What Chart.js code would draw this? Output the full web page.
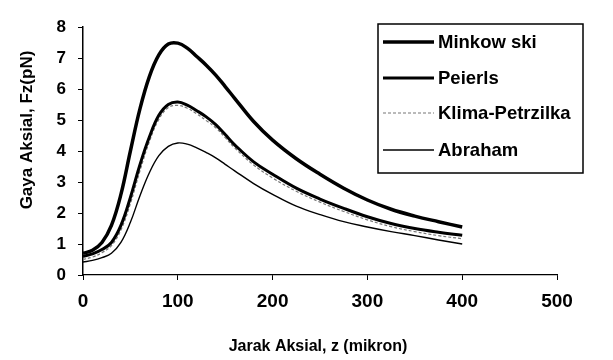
<!DOCTYPE html>
<html>
<head>
<meta charset="utf-8">
<script src="https://cdn.jsdelivr.net/npm/chart.js@4/dist/chart.umd.min.js"></script>
<style>
  html, body { margin: 0; padding: 0; background: #fff; }
  #wrap { width: 613px; height: 360px; }
</style>
</head>
<body>
<div id="wrap"><canvas id="c" width="613" height="360"></canvas></div>
<script>
// ---- data ----
const zValues = [0, 10, 20, 30, 40, 50, 60, 70, 80, 90, 100, 110, 120, 130, 140, 150, 160, 180, 200, 225, 250, 275, 300, 325, 350, 375, 400];
const minkowski = [0.7, 0.8, 1.05, 1.6, 2.6, 4.0, 5.35, 6.4, 7.1, 7.45, 7.48, 7.32, 7.05, 6.77, 6.45, 6.08, 5.7, 4.95, 4.35, 3.75, 3.25, 2.8, 2.42, 2.12, 1.9, 1.72, 1.55];
const peierls = [0.6, 0.68, 0.82, 1.05, 1.6, 2.5, 3.55, 4.45, 5.15, 5.5, 5.58, 5.48, 5.3, 5.1, 4.85, 4.53, 4.2, 3.65, 3.25, 2.8, 2.45, 2.15, 1.88, 1.66, 1.5, 1.38, 1.28];
const klimaPetrzilka = [0.5, 0.58, 0.72, 0.95, 1.45, 2.3, 3.35, 4.3, 5.02, 5.4, 5.47, 5.38, 5.2, 4.98, 4.75, 4.43, 4.1, 3.55, 3.13, 2.7, 2.35, 2.05, 1.78, 1.56, 1.4, 1.27, 1.17];
const abraham = [0.42, 0.47, 0.56, 0.7, 1.05, 1.7, 2.55, 3.3, 3.85, 4.15, 4.26, 4.22, 4.1, 3.95, 3.78, 3.57, 3.36, 2.95, 2.6, 2.22, 1.95, 1.72, 1.55, 1.4, 1.27, 1.13, 1.0];
const seriesNames = ["Minkow ski", "Peierls", "Klima-Petrzilka", "Abraham"];
const xTitle = "Jarak Aksial, z (mikron)";
const yTitle = "Gaya Aksial, Fz(pN)";
const xTicks = [0, 100, 200, 300, 400, 500];
const yTicks = [0, 1, 2, 3, 4, 5, 6, 7, 8];

const FONT = "'Liberation Sans', Arial, sans-serif";

function pts(ys) { return zValues.map((z, i) => ({ x: z, y: ys[i] })); }

const styles = [
  { borderColor: '#000', borderWidth: 3.5, borderDash: [] },
  { borderColor: '#000', borderWidth: 3, borderDash: [] },
  { borderColor: '#777', borderWidth: 1.2, borderDash: [3, 2] },
  { borderColor: '#000', borderWidth: 1.4, borderDash: [] }
];
const allSeries = [minkowski, peierls, klimaPetrzilka, abraham];

const datasets = allSeries.map((s, i) => ({
  label: seriesNames[i],
  data: pts(s),
  borderColor: styles[i].borderColor,
  borderWidth: styles[i].borderWidth,
  borderDash: styles[i].borderDash,
  pointRadius: 0,
  fill: false,
  tension: 0.4
}));

const extras = {
  id: 'extras',
  afterDraw(chart) {
    const ctx = chart.ctx;
    ctx.save();
    // axis titles
    ctx.fillStyle = '#000';
    ctx.font = "bold 16px " + FONT;
    ctx.textAlign = 'center';
    ctx.textBaseline = 'middle';
    ctx.fillText(xTitle, 318, 347);
    ctx.save();
    ctx.translate(27, 130);
    ctx.rotate(-Math.PI / 2);
    ctx.font = "bold 17px " + FONT;
    ctx.fillText(yTitle, 0, 0);
    ctx.restore();

    // legend box
    const lx = 378, ly = 24, lw = 205, lh = 149;
    ctx.lineWidth = 1.5;
    ctx.strokeStyle = '#000';
    ctx.setLineDash([]);
    ctx.strokeRect(lx, ly, lw, lh);
    const rows = [42, 78, 113, 150];
    ctx.font = "bold 18.5px " + FONT;
    ctx.textAlign = 'left';
    chart.data.datasets.forEach((ds, i) => {
      const y = rows[i];
      ctx.beginPath();
      ctx.lineWidth = ds.borderWidth;
      ctx.strokeStyle = ds.borderColor;
      ctx.setLineDash(ds.borderDash || []);
      ctx.moveTo(383, y);
      ctx.lineTo(434, y);
      ctx.stroke();
      ctx.setLineDash([]);
      ctx.fillStyle = '#000';
      ctx.fillText(ds.label, 438, y + 1);
    });
    ctx.restore();
  }
};

new Chart(document.getElementById('c'), {
  type: 'line',
  data: { datasets },
  options: {
    responsive: false,
    animation: false,
    layout: { padding: { left: 0, right: 56, top: 27, bottom: 0 } },
    plugins: { legend: { display: false }, tooltip: { enabled: false } },
    scales: {
      x: {
        type: 'linear',
        min: 0, max: 500,
        afterBuildTicks(scale) { scale.ticks = xTicks.map(v => ({ value: v })); },
        afterFit(scale) { scale.height = 85; },
        ticks: { color: '#000', font: { family: FONT, size: 19, weight: 'bold' }, padding: 10, maxRotation: 0 },
        grid: { drawOnChartArea: false, color: '#000', tickLength: 5, lineWidth: 1 },
        border: { display: true, color: '#000', width: 1.2 }
      },
      y: {
        type: 'linear',
        min: 0, max: 8,
        afterBuildTicks(scale) { scale.ticks = yTicks.map(v => ({ value: v })); },
        afterFit(scale) { scale.width = 83; },
        ticks: { color: '#000', font: { family: FONT, size: 17, weight: 'bold' }, padding: 12 },
        grid: { drawOnChartArea: false, color: '#000', tickLength: 5, lineWidth: 1 },
        border: { display: true, color: '#000', width: 1.5 }
      }
    }
  },
  plugins: [extras]
});
</script>
</body>
</html>
